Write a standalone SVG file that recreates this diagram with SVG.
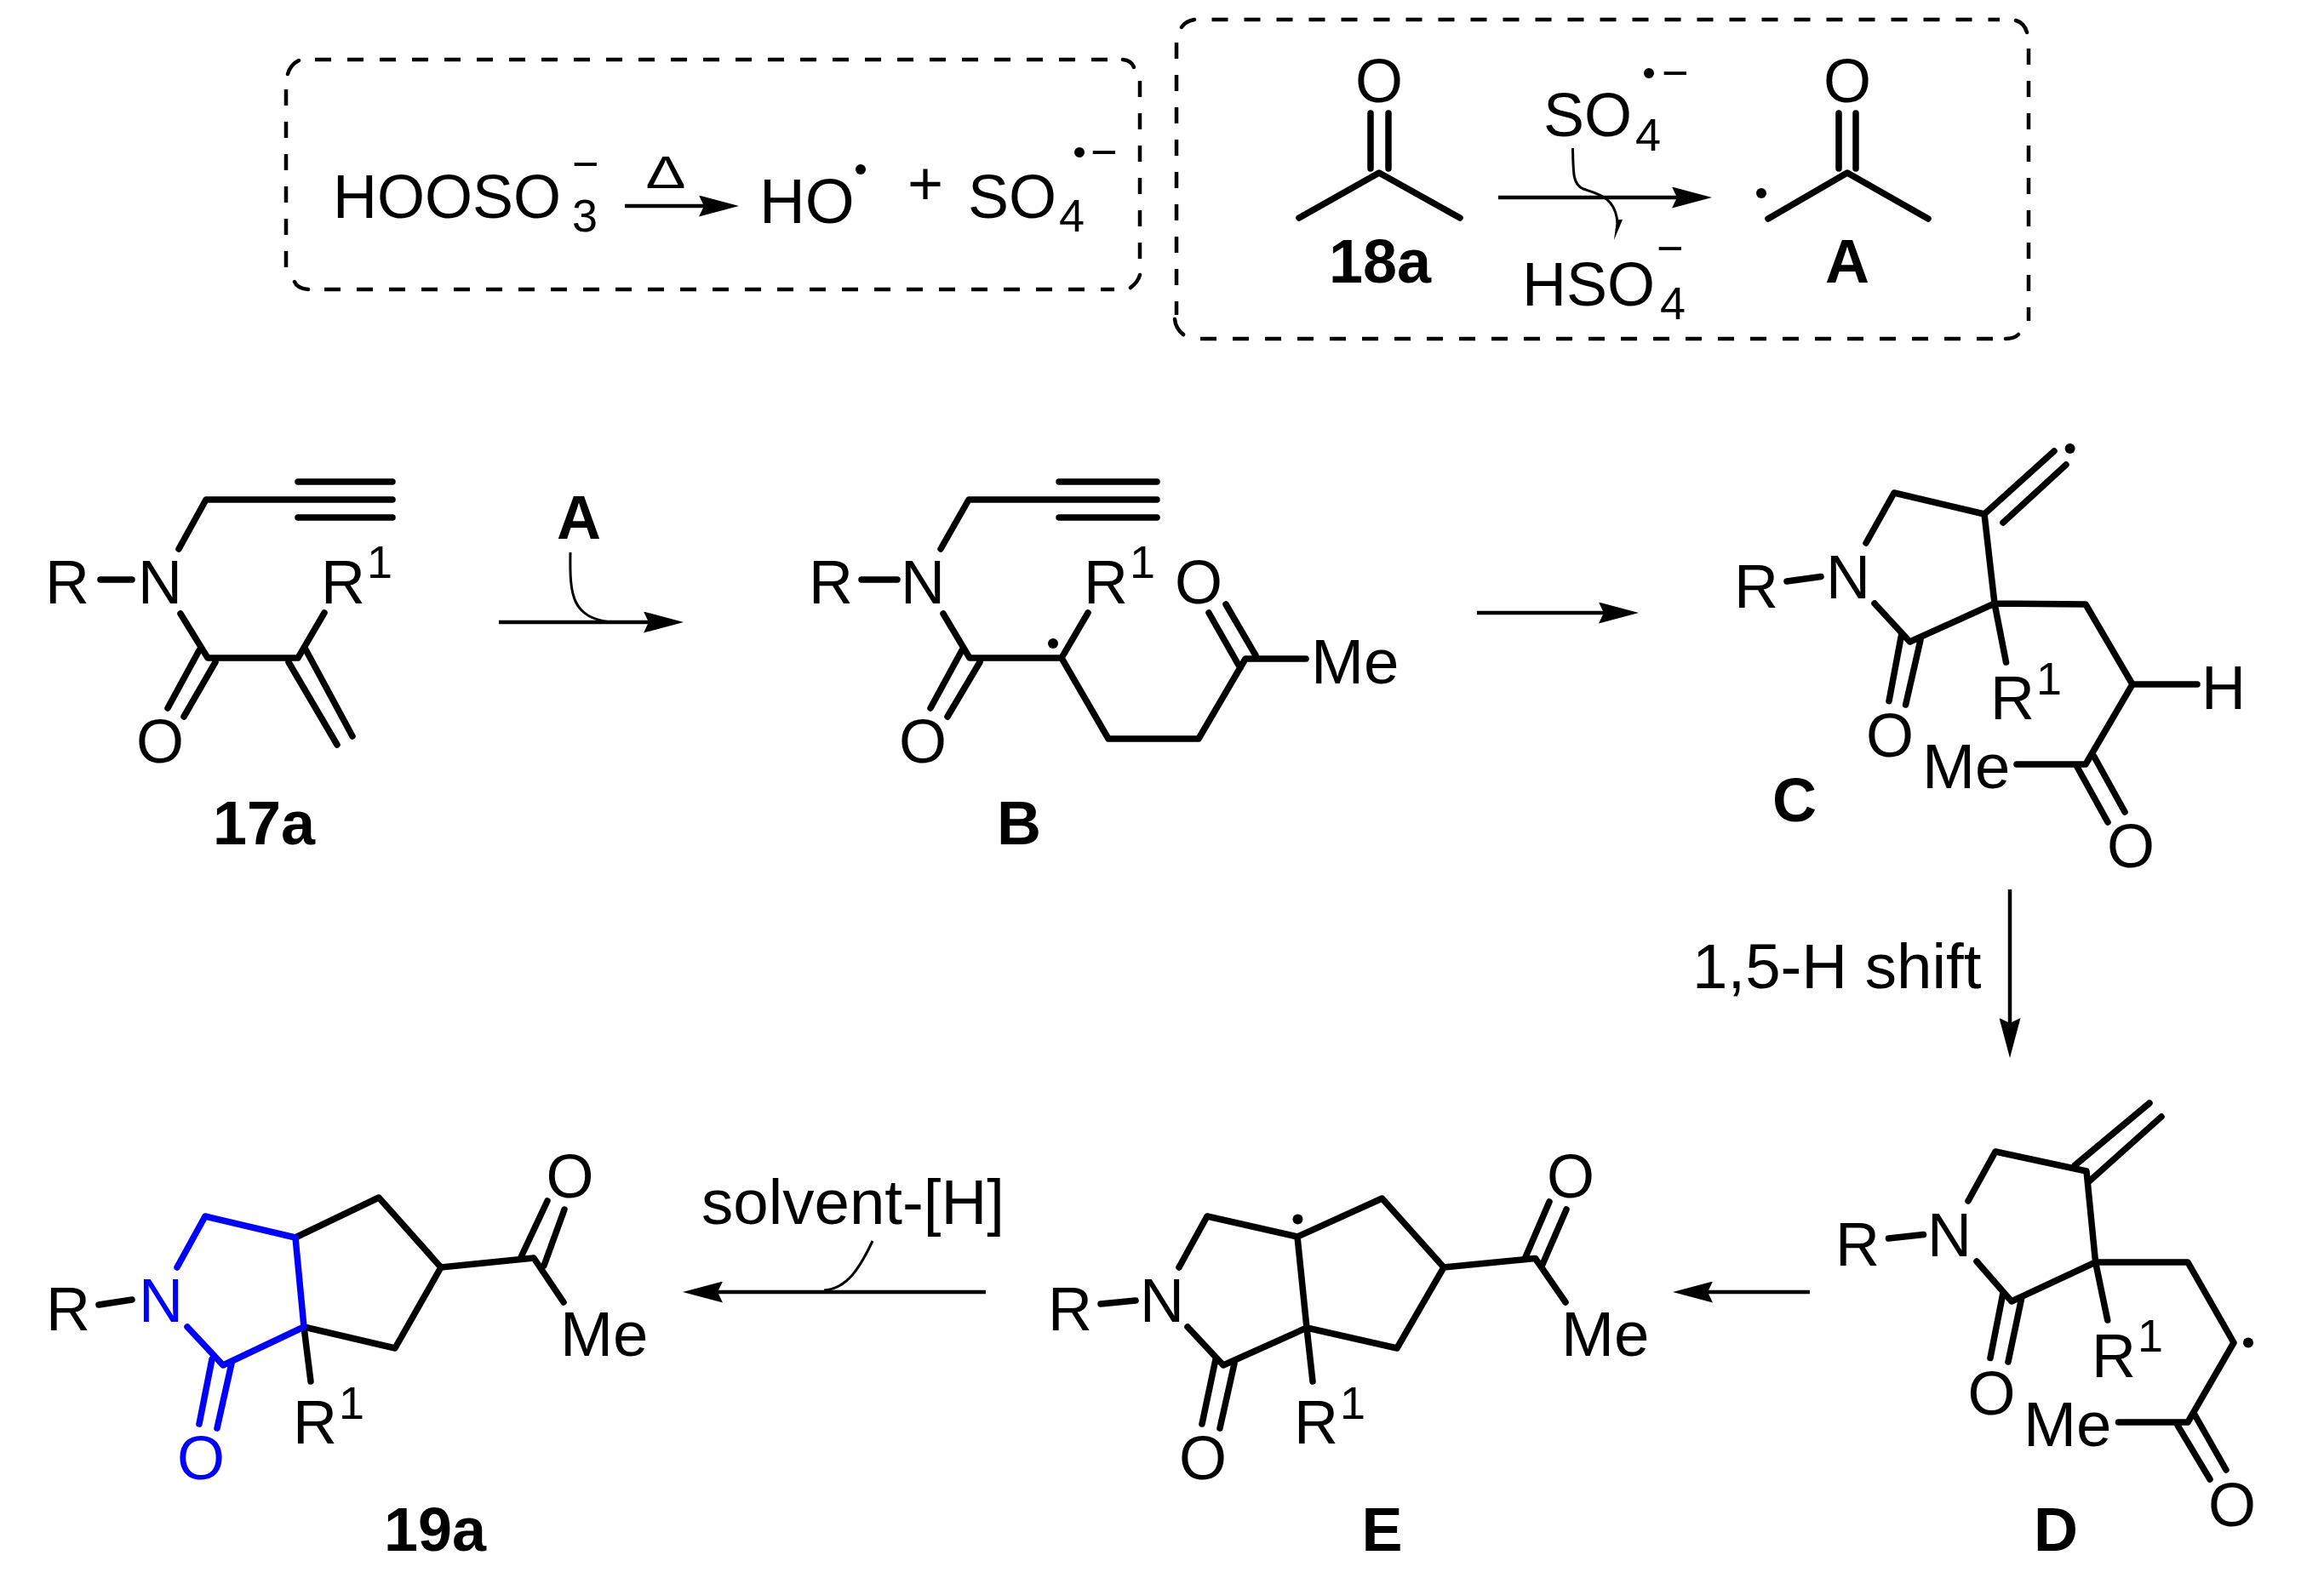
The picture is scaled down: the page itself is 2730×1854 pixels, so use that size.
<svg xmlns="http://www.w3.org/2000/svg" width="2730" height="1854" viewBox="0 0 2730 1854">
<style>
text{font-family:"Liberation Sans",Arial,sans-serif;font-size:72px;fill:#000}
.s{font-size:54px}
.w{font-size:74.500px}
.b{font-weight:bold;text-anchor:middle;font-size:72px}
.m{text-anchor:middle}
.bond{fill:none;stroke:#000;stroke-width:7.500;stroke-linecap:round;stroke-linejoin:round}
.blue{stroke:#0000ff}
text.bt,.bt tspan{fill:#0000ff}
.dash{fill:none;stroke:#000;stroke-width:4.500;stroke-dasharray:19 19}
.corner{fill:none;stroke:#000;stroke-width:4.500;stroke-linecap:round}
.arr{fill:none;stroke:#000;stroke-width:4.500;marker-end:url(#head)}
.curl{fill:none;stroke:#000;stroke-width:3}
</style>
<defs>
<marker id="head" markerUnits="userSpaceOnUse" markerWidth="47" markerHeight="25" refX="6" refY="12.500" orient="auto" viewBox="0 0 47 25"><path d="M0,0 L47,12.500 L0,25 L6,12.500 Z" fill="#000"/></marker>
</defs>
<rect width="2730" height="1854" fill="#fff"/>

<g id="connectors">
<path class="arr" d="M734,242 H827"/>
<path class="arr" d="M1760,232 H1970"/>
<path class="curl" d="M1847.500,174 C1848,205 1848,217 1860,222 C1878,228 1898,232 1900,262"/>
<path d="M1906,258 L1896,282 L1899,258 Z" fill="#000"/>
<path class="arr" d="M586,731 H762"/>
<path class="curl" d="M670,649 C669,700 672,726 718,731"/>
<path class="arr" d="M1735,720 H1884"/>
<path class="arr" d="M2361,1045 V1202"/>
<path class="arr" d="M2126,1518 H2006"/>
<path class="arr" d="M1158,1518 H843"/>
<path class="curl" d="M1025,1458 C1010,1490 995,1514 968,1516"/>
</g>

<g id="box-initiation">
<path class="dash" d="M370,70 H1319 M1339,95 V320 M381,340 H1309 M336,105 V315"/>
<path class="corner" d="M338,87 Q341,76 351,71 M1319,70 Q1329,71 1332,79 M1339,323 Q1337,331 1328,338 M346,331 Q349,339 362,340"/>
<text x="391" y="256">HOOSO<tspan class="s" x="672" y="272">3</tspan></text>
<text class="s" x="672" y="211">−</text>
<text class="s m" x="782" y="221" textLength="47" lengthAdjust="spacingAndGlyphs">Δ</text>
<text class="w" x="892" y="262">HO</text>
<circle cx="1011" cy="199" r="6"/>
<text class="m" x="1087" y="240">+</text>
<text x="1137" y="256">SO<tspan class="s" x="1244" y="272">4</tspan></text>
<circle cx="1268" cy="179" r="6"/>
<text class="s" x="1281" y="197">−</text>
</g>

<g id="box-abstraction">
<path class="dash" d="M1423.500,23 H2349 M2383,57 V377 M1410,398 H2351 M1382,50 V370"/>
<path class="corner" d="M1388,32 Q1392,25 1403,23 M2368,24 Q2378,27 2381,38 M2371,393 Q2366,398 2356,398 M1380,375 Q1381,386 1390,393"/>
<text x="1813" y="160">SO<tspan class="s" x="1921" y="177">4</tspan></text>
<circle cx="1937" cy="86" r="6"/>
<text class="s" x="1952" y="104">−</text>
<text x="1788" y="359">HSO<tspan class="s" x="1950" y="375">4</tspan></text>
<text class="s" x="1946" y="310">−</text>
</g>

<g id="n18a">
<path class="bond" d="M1526,256 L1620,203 L1715,256 M1610,133 V198 M1631,133 V198"/>
<text class="m" x="1620" y="120">O</text>
<text class="b" x="1621" y="332">18a</text>
</g>

<g id="nA">
<path class="bond" d="M2077,257 L2170,203 L2265,257 M2160,133 V198 M2180,133 V198"/>
<circle cx="2069" cy="227" r="6"/>
<text class="m" x="2170" y="120">O</text>
<text class="b" x="2170" y="332">A</text>
</g>

<g id="n17a">
<path class="bond" d="M118,681 H155 M210,645 L242,587 H461 M350,566 H461 M350,608 H461 M212,721 L244,773 H350 L381,720 M234,764 L197,832 M253,778 L216,842 M339,778 L396,875 M359,763 L414,865"/>
<text x="53" y="709">R</text>
<text x="162" y="709">N</text>
<text x="377" y="709">R<tspan class="s" x="431" y="679">1</tspan></text>
<text class="m" x="188" y="896">O</text>
<text class="b" x="310" y="992">17a</text>
</g>
<text class="b" x="680" y="633">A</text>

<g id="nB">
<path class="bond" d="M1012,681 H1054 M1105,645 L1138,587 H1359 M1244,566 H1359 M1244,608 H1359 M1108,721 L1139,773 H1247 L1278,720 M1130,764 L1093,832 M1151,778 L1113,842 M1247,773 L1302,868 H1408 L1463,774 H1534 M1420,720 L1457,785 M1440,710 L1475,770"/>
<circle cx="1237" cy="756" r="6"/>
<text x="950" y="709">R</text>
<text x="1058" y="709">N</text>
<text x="1273" y="709">R<tspan class="s" x="1327" y="679">1</tspan></text>
<text class="m" x="1084" y="896">O</text>
<text class="m" x="1408" y="709">O</text>
<text class="w" x="1540" y="803">Me</text>
<text class="b" x="1197" y="992">B</text>
</g>

<g id="nC">
<path class="bond" d="M2099,683 L2139,677.500 M2192,638 L2225,579 L2331,604 L2343,709 L2243.500,754 L2202,709 M2331,604 L2413,530 M2353,614 L2427,546 M2233.600,746 L2219,823.600 M2256,752 L2238.600,828 M2343,709 L2356.500,778 M2343,709 L2450,710 L2505,804 H2581 M2505,804 L2450,898 H2369 M2440,901 L2476,966 M2460,889 L2496,954"/>
<circle cx="2431.600" cy="527" r="6"/>
<text x="2037" y="714">R</text>
<text x="2145" y="703">N</text>
<text x="2338" y="845">R<tspan class="s" x="2392" y="816">1</tspan></text>
<text x="2586" y="833">H</text>
<text class="w" x="2258" y="926">Me</text>
<text class="m" x="2220" y="889">O</text>
<text class="m" x="2503" y="1019">O</text>
<text class="b" x="2108" y="965">C</text>
</g>
<text class="w" x="1988" y="1161">1,5-H shift</text>

<g id="nD">
<path class="bond" d="M2218.500,1455 L2259.500,1450.600 M2312,1411 L2344,1353 L2451,1376 L2461.600,1483 L2363,1529 L2322,1482 M2437.500,1369 L2525,1296 M2453,1389 L2539,1312 M2353,1519 L2338,1595.500 M2375,1524 L2359,1600 M2461.600,1483 L2475.700,1551 M2461.600,1483 H2570 L2624,1577.500 L2570,1671 H2488.500 M2558,1674.600 L2596,1738 M2578,1662 L2615,1727"/>
<circle cx="2641" cy="1577.500" r="6"/>
<text x="2156" y="1487">R</text>
<text x="2264" y="1476">N</text>
<text x="2457" y="1618">R<tspan class="s" x="2511" y="1588">1</tspan></text>
<text class="w" x="2377" y="1699">Me</text>
<text class="m" x="2339.500" y="1662">O</text>
<text class="m" x="2622" y="1793">O</text>
<text class="b" x="2415" y="1822">D</text>
</g>

<g id="nE">
<path class="bond" d="M1293,1532 L1334,1528 M1385,1489 L1418,1429 L1524,1453 L1623.500,1408 L1696,1489 L1641,1584 L1535,1560 L1524,1453 M1535,1560 L1437,1604 L1395,1559 M1535,1560 L1542,1623 M1428,1597 L1412,1673 M1450,1602 L1433,1678 M1696,1489 L1803.500,1478.500 L1839,1530 M1792,1477 L1820,1412 M1812,1485.500 L1840,1421"/>
<circle cx="1524.500" cy="1432.500" r="6"/>
<text x="1231" y="1563">R</text>
<text x="1339" y="1553">N</text>
<text x="1520" y="1696">R<tspan class="s" x="1574" y="1667">1</tspan></text>
<text class="w" x="1834" y="1593">Me</text>
<text class="m" x="1413" y="1738">O</text>
<text class="m" x="1845" y="1407">O</text>
<text class="b" x="1623.500" y="1822">E</text>
</g>

<g id="n19a">
<path class="bond" d="M347,1454 L445,1407 L518,1489 L464,1584 L357,1559 L365,1623 M518,1489 L627,1478 L662,1530 M612,1477 L643,1411 M639,1487 L663,1421 M116,1533 L155,1527"/>
<path class="bond blue" d="M208,1489 L241,1429 L347,1454 L357,1559 L262,1604 L220,1559 M249,1597 L234,1673 M272,1602 L255,1678"/>
<text x="54" y="1563">R</text>
<text class="bt" x="163" y="1553">N</text>
<text class="m bt" x="236" y="1738">O</text>
<text x="344" y="1696">R<tspan class="s" x="398" y="1667">1</tspan></text>
<text class="w" x="658" y="1593">Me</text>
<text class="m" x="669.500" y="1407">O</text>
<text class="b" x="511" y="1822">19a</text>
</g>
<text class="w" x="824" y="1438">solvent-[H]</text>
</svg>
